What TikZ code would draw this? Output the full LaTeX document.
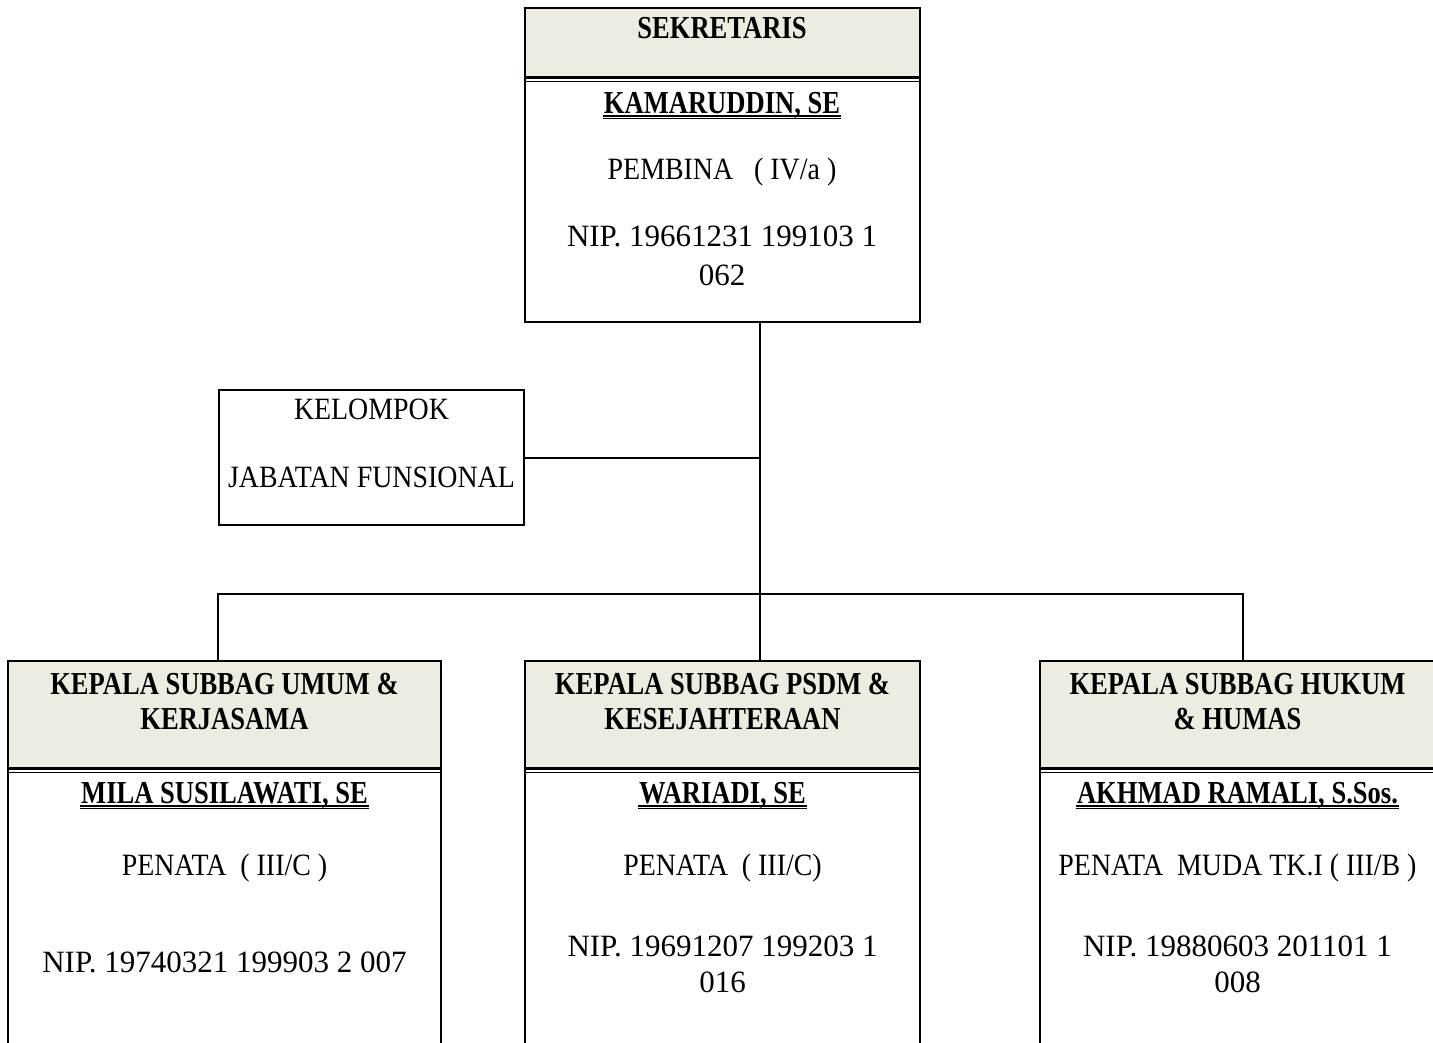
\documentclass[tikz,border=0pt]{standalone}
\usepackage{fontspec}
\setmainfont{Liberation Serif}
\newfontfamily\regf[FakeStretch=0.9]{Liberation Serif}
\newfontfamily\nipf{Liberation Serif}
\newfontfamily\boldf[FakeStretch=0.83]{Liberation Serif}
\usetikzlibrary{calc}
\definecolor{hdr}{HTML}{EEECE1}
\begin{document}
\begin{tikzpicture}[x=0.75pt,y=-0.75pt,line width=1.5pt,
  box/.style={draw=black,line width=1.5pt,inner sep=0pt,outer sep=0pt,anchor=north west},
  txt/.style={inner sep=0pt,anchor=base,font=\regf\fontsize{23.25pt}{28pt}\selectfont},
  nip/.style={inner sep=0pt,anchor=base,font=\nipf\fontsize{23.25pt}{28pt}\selectfont},
  hd/.style={inner sep=0pt,anchor=base,font=\boldf\bfseries\fontsize{24pt}{28pt}\selectfont},
  thickrule/.style={line width=1.9pt},
  thinrule/.style={line width=0.9pt},
  conn/.style={draw=black,line width=1.5pt}]
\useasboundingbox (0,0) rectangle (1433,1042);
\clip (0,0) rectangle (1433,1042);
% header fills
\fill[hdr] (525,8) rectangle (920,77);
\fill[hdr] (8,661) rectangle (441,768);
\fill[hdr] (525,661) rectangle (920,768);
\fill[hdr] (1040,661) rectangle (1480,768);
% boxes
\node[box,minimum width=296.25pt,minimum height=235.5pt] (top) at (525,8) {};
\node[box,minimum width=228.75pt,minimum height=101.25pt] (kel) at (219,390) {};
\node[box,minimum width=324.75pt,minimum height=300pt] (lft) at (8,661) {};
\node[box,minimum width=296.25pt,minimum height=300pt] (mid) at (525,661) {};
\node[box,minimum width=330pt,minimum height=300pt] (rgt) at (1040,661) {};
% header double rules
\draw[thickrule] (top.north west |- 0,77.5) -- (top.north east |- 0,77.5);
\draw[thinrule] (top.north west |- 0,81.5) -- (top.north east |- 0,81.5);
\foreach \b in {lft,mid,rgt}{
  \draw[thickrule] (\b.north west |- 0,768.5) -- (\b.north east |- 0,768.5);
  \draw[thinrule] (\b.north west |- 0,772.5) -- (\b.north east |- 0,772.5);
}
% connectors
\coordinate (tr) at (760,594);
\coordinate (bl) at (218,594);
\coordinate (br) at (1243,594);
\draw[conn] (top.south -| tr) -- (tr) -- (mid.north -| tr);
\draw[conn] (kel.east) -- (kel.east -| tr);
\draw[conn] (lft.north -| bl) -- (bl) -- (br) -- (rgt.north -| br);
% top box text
\node[hd] (t1) at (722,38) {SEKRETARIS};
\node[hd] (tn) at (722,113) {KAMARUDDIN, SE};
\node[txt] (t2) at (722,179) {PEMBINA\ \ \ ( IV/a )};
\node[nip] (t3) at (722,246) {NIP. 19661231 199103 1};
\node[nip] (t4) at (722,285) {062};
% kelompok
\node[txt] (k1) at (371.5,419) {KELOMPOK};
\node[txt] (k2) at (371.5,487) {JABATAN FUNSIONAL};
% left box
\node[hd] (l1) at (224.5,694) {KEPALA SUBBAG UMUM \&};
\node[hd] (l2) at (224.5,729) {KERJASAMA};
\node[hd] (ln) at (224.5,803) {MILA SUSILAWATI, SE};
\node[txt] (l3) at (224.5,875) {PENATA\ \ ( III/C )};
\node[nip] (l4) at (224.5,972) {NIP. 19740321 199903 2 007};
% middle box
\node[hd] (m1) at (722.5,694) {KEPALA SUBBAG PSDM \&};
\node[hd] (m2) at (722.5,729) {KESEJAHTERAAN};
\node[hd] (mn) at (722.5,803) {WARIADI, SE};
\node[txt] (m3) at (722.5,875) {PENATA\ \ ( III/C)};
\node[nip] (m4) at (722.5,956) {NIP. 19691207 199203 1};
\node[nip] (m5) at (722.5,992) {016};
% right box
\node[hd] (r1) at (1237.5,694) {KEPALA SUBBAG HUKUM};
\node[hd] (r2) at (1237.5,729) {\& HUMAS};
\node[hd] (rn) at (1237.5,803) {AKHMAD RAMALI, S.Sos.};
\node[txt] (r3) at (1237.5,875) {PENATA\ \ MUDA TK.I ( III/B )};
\node[nip] (r4) at (1237.5,956) {NIP. 19880603 201101 1};
\node[nip] (r5) at (1237.5,992) {008};
% double underlines of names
\foreach \n in {tn,ln,mn,rn}{
  \draw[line width=1.5pt] ($(\n.base west)+(0,2.5)$) -- ($(\n.base east)+(0,2.5)$);
  \draw[line width=0.9pt] ($(\n.base west)+(0,5.5)$) -- ($(\n.base east)+(0,5.5)$);
}
\end{tikzpicture}
\end{document}
